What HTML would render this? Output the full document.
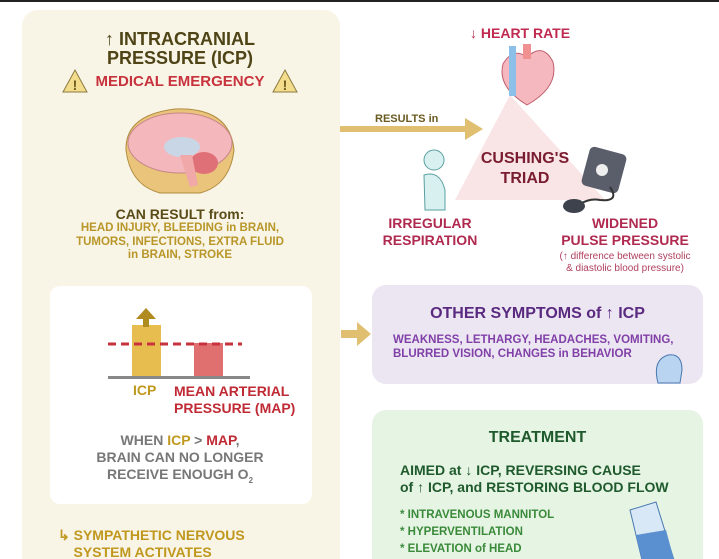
<!DOCTYPE html>
<html><head><meta charset="utf-8"><style>
*{margin:0;padding:0;box-sizing:border-box}
html,body{width:719px;height:559px;overflow:hidden}
body{background:#fff;position:relative;font-family:"Liberation Sans",sans-serif;font-weight:bold}
.a{position:absolute;white-space:nowrap;text-align:center;line-height:1}
</style></head><body>
<div style="position:absolute;left:0;top:0;width:719px;height:2px;background:#222"></div>
<div style="position:absolute;left:22px;top:10px;width:318px;height:549px;background:#f8f4e6;border-radius:16px 16px 0 0"></div>
<div class="a" style="left:60px;top:30px;width:240px;font-size:18px;color:#4e4416;line-height:19px">↑ INTRACRANIAL<br>PRESSURE (ICP)</div>
<div class="a" style="left:60px;top:74px;width:240px;font-size:15px;color:#c8323c">MEDICAL EMERGENCY</div>
<svg style="position:absolute;left:62px;top:68px" width="26" height="26"><polygon points="13,2 25,24 1,24" fill="#f3dc8c" stroke="#8a7a40"/><text x="13" y="22" font-size="14" text-anchor="middle" fill="#6b5a20">!</text></svg>
<svg style="position:absolute;left:272px;top:68px" width="26" height="26"><polygon points="13,2 25,24 1,24" fill="#f3dc8c" stroke="#8a7a40"/><text x="13" y="22" font-size="14" text-anchor="middle" fill="#6b5a20">!</text></svg>
<svg style="position:absolute;left:120px;top:105px" width="120" height="90"><path d="M6,45 Q5,10 55,4 Q110,2 114,45 Q110,80 80,88 L40,88 Q10,80 6,45Z" fill="#e9c47a" stroke="#b08c40"/><ellipse cx="60" cy="38" rx="52" ry="30" fill="#f4b8bc" stroke="#c7868a"/><ellipse cx="62" cy="42" rx="18" ry="10" fill="#c8d6e6"/><ellipse cx="84" cy="58" rx="14" ry="11" fill="#e07078"/><path d="M60,50 L70,82 L78,80 L72,50Z" fill="#f0a8a8"/></svg>
<div class="a" style="left:60px;top:207px;width:240px;font-size:14px;color:#5a4c18">CAN RESULT from:</div>
<div class="a" style="left:50px;top:222px;width:260px;font-size:11.5px;color:#b89628;line-height:13.5px">HEAD INJURY, BLEEDING in BRAIN,<br>TUMORS, INFECTIONS, EXTRA FLUID<br>in BRAIN, STROKE</div>
<div style="position:absolute;left:50px;top:286px;width:262px;height:218px;background:#fff;border-radius:10px"></div>
<svg style="position:absolute;left:100px;top:305px" width="160" height="80"><rect x="32" y="20" width="29" height="53" fill="#e8bd50"/><polygon points="46,3 36,14 56,14" fill="#b08c20"/><rect x="43" y="12" width="6" height="10" fill="#b08c20"/><rect x="94" y="38" width="29" height="35" fill="#e07070"/><line x1="8" y1="39" x2="142" y2="39" stroke="#c8323c" stroke-width="3" stroke-dasharray="8,5"/><rect x="8" y="71" width="142" height="3" fill="#888"/></svg>
<div class="a" style="left:133px;top:383px;font-size:14px;color:#c0981e">ICP</div>
<div class="a" style="left:174px;top:383px;font-size:14px;color:#c02a34;text-align:left;line-height:17px">MEAN ARTERIAL<br>PRESSURE (MAP)</div>
<div class="a" style="left:80px;top:432px;width:200px;font-size:14px;color:#777;line-height:17px">WHEN <span style="color:#c0981e">ICP</span> &gt; <span style="color:#c02a34">MAP</span>,<br>BRAIN CAN NO LONGER<br>RECEIVE ENOUGH O<sub style="font-size:8px">2</sub></div>
<div class="a" style="left:58px;top:527px;font-size:14px;color:#c0981e;text-align:left;line-height:17px">↳ SYMPATHETIC NERVOUS<br>&nbsp;&nbsp;&nbsp;&nbsp;SYSTEM ACTIVATES</div>
<div style="position:absolute;left:340px;top:126px;width:130px;height:6px;background:#e0c070"></div>
<svg style="position:absolute;left:465px;top:118px" width="20" height="22"><polygon points="0,0 18,11 0,22" fill="#e0c070"/></svg>
<div class="a" style="left:375px;top:114px;font-size:11px;color:#6a5a20">RESULTS in</div>
<svg style="position:absolute;left:440px;top:90px" width="200" height="115"><polygon points="70,5 165,110 15,110" fill="#f9e4e6"/></svg>
<div class="a" style="left:470px;top:26px;font-size:14px;color:#c02a50">↓ HEART RATE</div>
<svg style="position:absolute;left:495px;top:42px" width="65" height="65"><path d="M32,63 Q2,45 8,22 Q18,5 32,15 Q48,0 58,20 Q64,45 32,63Z" fill="#f5b8be" stroke="#c06070"/><rect x="14" y="4" width="7" height="50" fill="#8cc0e8"/><rect x="28" y="2" width="8" height="15" fill="#f09090"/></svg>
<div class="a" style="left:470px;top:149px;width:110px;font-size:16px;color:#7a1c30;line-height:20px">CUSHING'S<br>TRIAD</div>
<svg style="position:absolute;left:410px;top:145px" width="50" height="70"><circle cx="24" cy="15" r="10" fill="#d8f0f0" stroke="#5aa0a0"/><path d="M14,30 Q30,25 35,45 L35,65 L15,65Z" fill="#d8f0f0" stroke="#5aa0a0"/></svg>
<svg style="position:absolute;left:560px;top:142px" width="75" height="72"><rect x="25" y="8" width="38" height="40" rx="5" fill="#5a5e6a" transform="rotate(15 44 28)"/><circle cx="42" cy="28" r="6" fill="#eee"/><path d="M50,45 Q60,60 40,58 Q30,56 20,62" stroke="#333" stroke-width="2" fill="none"/><ellipse cx="14" cy="64" rx="11" ry="7" fill="#3e424c"/></svg>
<div class="a" style="left:380px;top:215px;width:100px;font-size:14px;color:#b02a50;line-height:17px">IRREGULAR<br>RESPIRATION</div>
<div class="a" style="left:540px;top:215px;width:170px;font-size:14px;color:#b02a50;line-height:17px">WIDENED<br>PULSE PRESSURE</div>
<div class="a" style="left:540px;top:251px;width:170px;font-size:10px;font-weight:normal;color:#b04060;line-height:12px">(↑ difference between systolic<br>&amp; diastolic blood pressure)</div>
<svg style="position:absolute;left:341px;top:322px" width="32" height="24"><rect x="0" y="8" width="18" height="8" fill="#e0c070"/><polygon points="16,0 30,12 16,24" fill="#e0c070"/></svg>
<div style="position:absolute;left:372px;top:285px;width:331px;height:99px;background:#ece6f2;border-radius:14px"></div>
<div class="a" style="left:380px;top:306px;width:315px;font-size:16px;color:#5a2a80">OTHER SYMPTOMS of ↑ ICP</div>
<div class="a" style="left:393px;top:333px;font-size:11.5px;color:#8040a8;text-align:left;line-height:14px">WEAKNESS, LETHARGY, HEADACHES, VOMITING,<br>BLURRED VISION, CHANGES in BEHAVIOR</div>
<svg style="position:absolute;left:650px;top:345px" width="40" height="40"><path d="M8,38 Q2,15 18,10 Q32,8 32,25 L30,38Z" fill="#b8d4f0" stroke="#4878b0"/></svg>
<div style="position:absolute;left:372px;top:410px;width:331px;height:149px;background:#e6f4e4;border-radius:14px 14px 0 0"></div>
<div class="a" style="left:380px;top:430px;width:315px;font-size:16px;color:#1e5a2c">TREATMENT</div>
<div class="a" style="left:400px;top:462px;font-size:14px;color:#1e5a2c;text-align:left;line-height:17px">AIMED at ↓ ICP, REVERSING CAUSE<br>of ↑ ICP, and RESTORING BLOOD FLOW</div>
<div class="a" style="left:400px;top:507px;font-size:11.5px;color:#3a8a3a;text-align:left;line-height:17px">* INTRAVENOUS MANNITOL<br>* HYPERVENTILATION<br>* ELEVATION of HEAD</div>
<svg style="position:absolute;left:628px;top:500px" width="50" height="60"><polygon points="2,10 28,2 46,60 14,60" fill="#d8e8f6" stroke="#4878b0"/><polygon points="8,35 38,30 46,60 14,60" fill="#5a90d0"/></svg>
</body></html>
